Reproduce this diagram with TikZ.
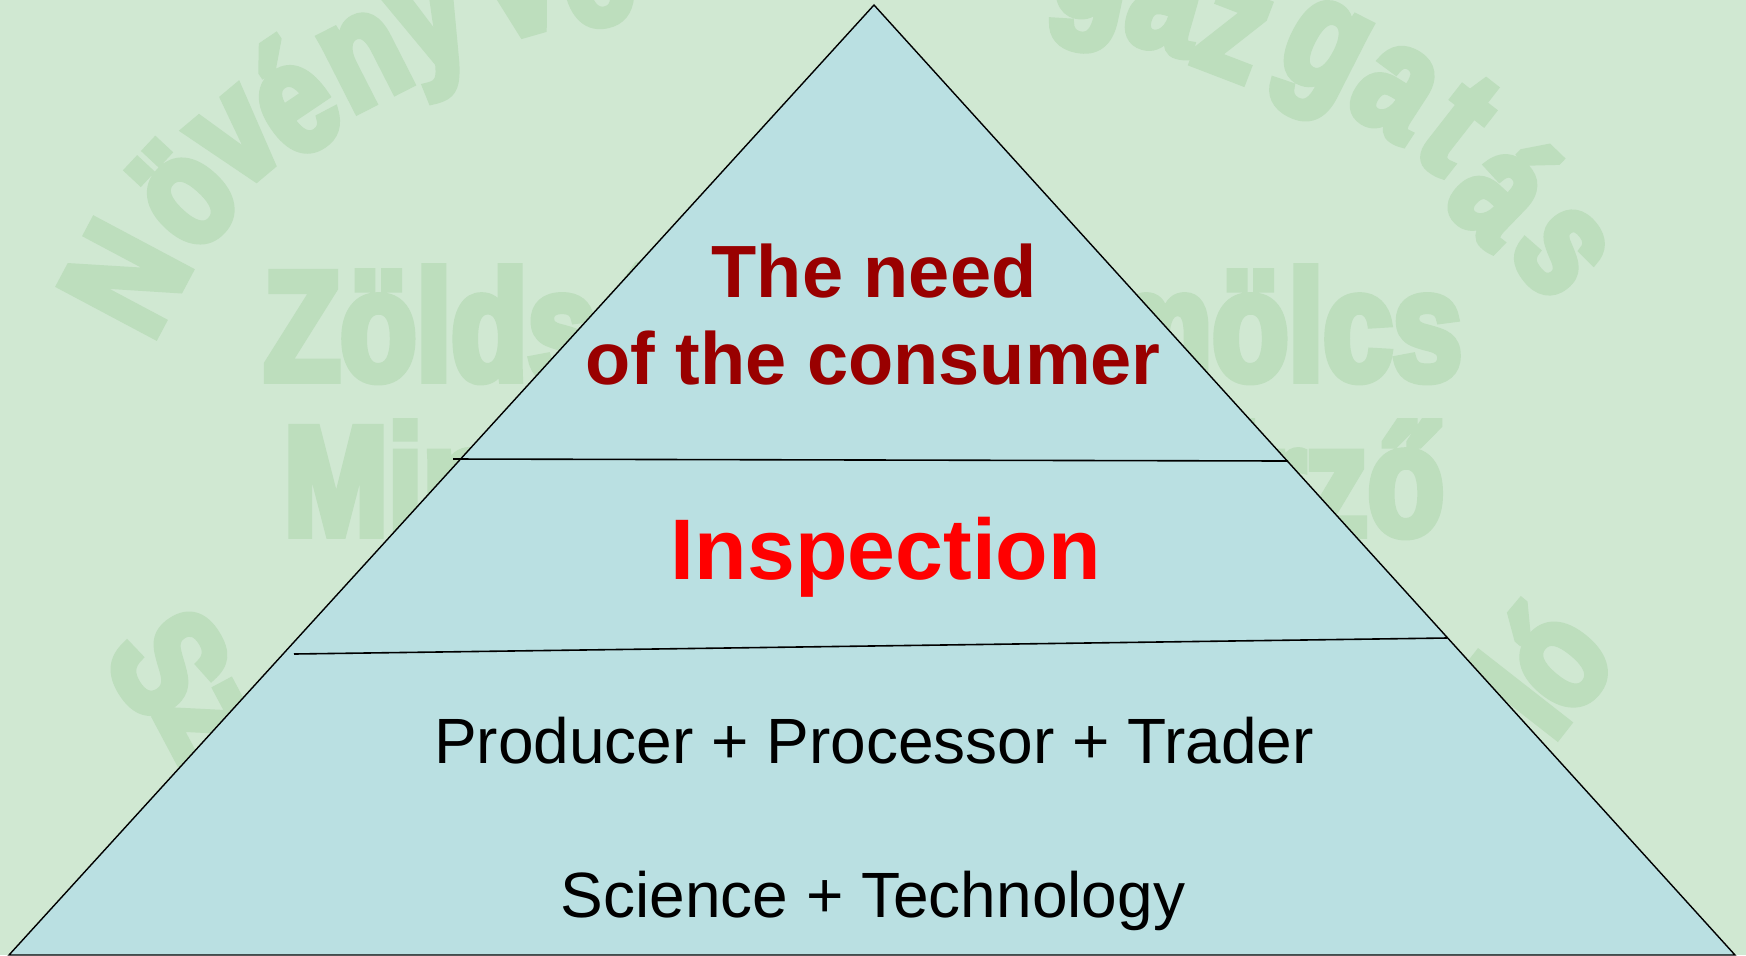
\documentclass[tikz,border=0pt]{standalone}
\usepackage{fontspec}
\setmainfont{Liberation Sans}
\newfontfamily\wmfont[FakeStretch=0.8,FakeBold=5]{Liberation Sans}
\definecolor{bgcol}{RGB}{208,232,210}
\definecolor{wmcol}{RGB}{189,222,189}
\definecolor{tricol}{RGB}{186,224,226}
\definecolor{needcol}{RGB}{153,0,0}
\definecolor{inspcol}{RGB}{255,0,0}
\begin{document}
\begin{tikzpicture}[x=0.5pt,y=-0.5pt,
  wmletter/.style={inner sep=0pt, outer sep=0pt, text=wmcol,
    font=\wmfont\bfseries\fontsize{78}{78}\selectfont},
  needtext/.style={inner sep=0pt, anchor=base, text=needcol,
    font=\bfseries\fontsize{37}{44}\selectfont},
  insptext/.style={inner sep=0pt, anchor=base, text=inspcol,
    font=\bfseries\fontsize{43}{50}\selectfont},
  basetext/.style={inner sep=0pt, anchor=base, text=black,
    font=\fontsize{32}{38}\selectfont},
  pyramid/.style={fill=tricol, draw=black, line width=0.7pt, line join=miter},
  divider/.style={draw=black, line width=0.8pt}]
\useasboundingbox (0,0) rectangle (1746,955);
\fill[bgcol] (0,0) rectangle (1746,955);
% watermark: straight rows
\node[wmletter, anchor=base west] (wz1) at (264,380) {Zöldség};
\node[wmletter, anchor=base east] (wz2) at (1462,380) {Gyümölcs};
\node[wmletter, anchor=base west] (wm1) at (284,535) {Minőség};
\node[wmletter, anchor=base east] (wm2) at (1444,535) {ellenőrző};
% watermark: upper arc
\node[wmletter, rotate=62] (a1) at (125,278) {N};
\node[wmletter, rotate=47] (a2) at (182,193) {ö};
\node[wmletter, rotate=40] (a3) at (238,140) {v};
\node[wmletter, rotate=34] (a4) at (290,97) {é};
\node[wmletter, rotate=27] (a5) at (365,60) {n};
\node[wmletter, rotate=22] (a6) at (437,38) {y};
\node[wmletter, rotate=16] (a7) at (522,-8) {v};
\node[wmletter, rotate=12] (a8) at (594,-32) {é};
\node[wmletter, rotate=-12] (b1) at (1090,-8) {g};
\node[wmletter, rotate=-16] (b2) at (1165,8) {a};
\node[wmletter, rotate=-21] (b3) at (1232,34) {z};
\node[wmletter, rotate=-27] (b4) at (1318,62) {g};
\node[wmletter, rotate=-33] (b5) at (1395,91) {a};
\node[wmletter, rotate=-38] (b6) at (1458,125) {t};
\node[wmletter, rotate=-44] (b7) at (1506,187) {á};
\node[wmletter, rotate=-52] (b8) at (1560,252) {s};
% watermark: lower arc
\node[wmletter, rotate=-58] (c1) at (169,663) {S};
\node[wmletter, rotate=-62] (c2) at (205,722) {z};
\node[wmletter, rotate=52] (d1) at (1518,695) {l};
\node[wmletter, rotate=50] (d2) at (1552,655) {ó};
% pyramid
\coordinate (apex) at (874,5);
\coordinate (bl) at (9,955);
\coordinate (br) at (1735,955);
\path[pyramid] (apex) -- (br) -- (bl) -- cycle;
\coordinate (l1a) at (453,459);
\coordinate (l1b) at (1288,461);
\coordinate (l2a) at (294,654);
\coordinate (l2b) at (1447,638);
\draw[divider] (l1a) -- (l1b);
\draw[divider] (l2a) -- (l2b);
% texts
\node[needtext] (need1) at (874,297) {The need};
\node[needtext] (need2) at (873,384) {of the consumer};
\node[insptext] (insp) at (886,579) {Inspection};
\node[basetext] (prod) at (874,763) {Producer + Processor + Trader};
\node[basetext] (sci) at (873,917) {Science + Technology};
\end{tikzpicture}
\end{document}
